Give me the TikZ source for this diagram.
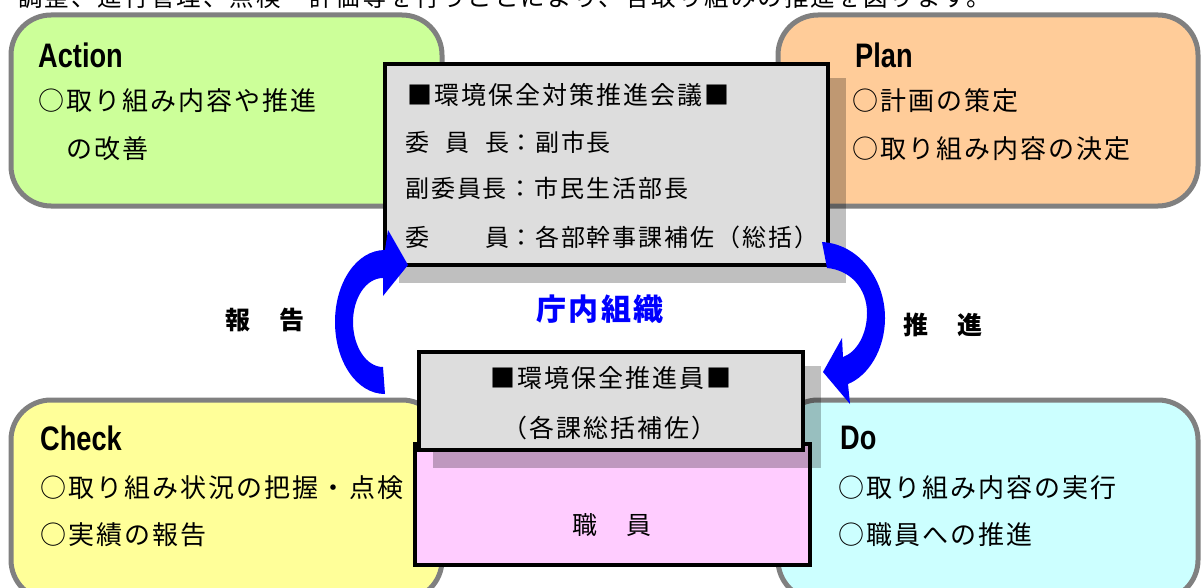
\documentclass[tikz,border=0pt]{standalone}
\usepackage{fontspec}
\setmainfont{Noto Sans CJK JP}[LetterSpace=8]
\newfontfamily\ttlfont{Liberation Sans}[FakeStretch=0.8]
\definecolor{pgreen}{HTML}{CCFF99}
\definecolor{porange}{HTML}{FFCC99}
\definecolor{pyellow}{HTML}{FFFF99}
\definecolor{pcyan}{HTML}{CCFFFF}
\definecolor{ppink}{HTML}{FFCCFF}
\definecolor{boxgray}{HTML}{DDDDDD}
\definecolor{rimgray}{HTML}{808080}
\definecolor{pblue}{HTML}{0000FF}
\begin{document}
\begin{tikzpicture}[x=1pt,y=-1pt,
  pdca/.style={draw=rimgray, line width=5pt, rounded corners=40pt, anchor=north west, inner sep=0pt, outer sep=0pt},
  orgbox/.style={draw=black, line width=4pt, fill=boxgray, anchor=north west, inner sep=0pt, outer sep=0pt},
  shadowbox/.style={fill=black, fill opacity=0.25, draw=none, anchor=north west, inner sep=0pt, outer sep=0pt},
  txt/.style={anchor=west, inner sep=0pt, font=\fontsize{26}{30}\selectfont},
  ctxt/.style={inner sep=0pt, font=\fontsize{25}{30}\selectfont},
  ttl/.style={anchor=west, inner sep=0pt, font=\ttlfont\bfseries\fontsize{34}{40}\selectfont},
  blockarrow/.style={fill=pblue, draw=none},
  lbl/.style={inner sep=0pt, font=\bfseries\fontsize{25}{30}\selectfont}
]
\useasboundingbox (0,0) rectangle (1201,588);

% cut-off introductory line
\node[anchor=base west, inner sep=0pt, font=\fontsize{24.5}{28}\selectfont] (intro) at (18,7) {調整、進行管理、点検・評価等を行うことにより、各取り組みの推進を図ります。};

% PDCA boxes
\node[pdca, fill=pgreen, minimum width=431pt, minimum height=191pt] (action) at (11,15) {};
\node[pdca, fill=porange, minimum width=420pt, minimum height=191pt] (plan) at (778,15) {};
\node[pdca, fill=pyellow, minimum width=431pt, minimum height=200pt] (check) at (11,400) {};
\node[pdca, fill=pcyan, minimum width=420pt, minimum height=200pt] (do) at (778,400) {};

\node[ttl] (actiont) at (38,55) {Action};
\node[txt] (action1) at (38,101) {○取り組み内容や推進};
\node[txt] (action2) at (66,149) {の改善};

\node[ttl] (plant) at (855,55) {Plan};
\node[txt] (plan1) at (852,101) {○計画の策定};
\node[txt] (plan2) at (852,149) {○取り組み内容の決定};

\node[ttl] (checkt) at (40,438) {Check};
\node[txt] (check1) at (40,488) {○取り組み状況の把握・点検};
\node[txt] (check2) at (40,535) {○実績の報告};

\node[ttl] (dot) at (840,438) {Do};
\node[txt] (do1) at (838,488) {○取り組み内容の実行};
\node[txt] (do2) at (838,535) {○職員への推進};

% council box
\node[shadowbox, minimum width=447pt, minimum height=205pt] (councilsh) at (399,78) {};
\node[orgbox, minimum width=443pt, minimum height=201pt] (council) at (385,64) {};
\node[txt, font=\fontsize{25}{30}\selectfont] (council0) at (407,95) {■環境保全対策推進会議■};
\node[txt, font=\fontsize{24}{28}\selectfont] (council1) at (405,142) {\makebox[104pt][s]{委\hfill 員\hfill 長}：副市長};
\node[txt, font=\fontsize{24}{28}\selectfont] (council2) at (405,188) {副委員長：市民生活部長};
\node[txt, font=\fontsize{24}{28}\selectfont] (council3) at (405,237) {\makebox[104pt][s]{委\hfill 員}：各部幹事課補佐（総括）};

% staff box and promoter box
\node[orgbox, fill=ppink, minimum width=395pt, minimum height=121pt] (staff) at (415,444) {};
\node[shadowbox, minimum width=388pt, minimum height=102pt] (promotersh) at (433,366) {};
\node[orgbox, minimum width=384pt, minimum height=98pt] (promoter) at (419,352) {};
\node[ctxt] (promoter1) at (611,378) {■環境保全推進員■};
\node[ctxt] (promoter2) at (609,428) {（各課総括補佐）};
\node[ctxt] (staff1) at (612,525) {職　員};

% curved block arrows
\fill[blockarrow] (385,394) .. controls (357,394) and (335,362) .. (335,322)
  .. controls (335,282) and (357,250) .. (385,250)
  -- (388,230) -- (408,265) -- (383,296) -- (383,278)
  .. controls (366,278) and (353,298) .. (353,322)
  .. controls (353,346) and (366,367) .. (383,367) -- cycle;
\fill[blockarrow] (822,242) .. controls (858,244) and (885,278) .. (885,318)
  .. controls (885,350) and (868,376) .. (848,384)
  -- (850,404) -- (823,372) -- (842,338) -- (843,357)
  .. controls (857,352) and (867,334) .. (867,313)
  .. controls (867,288) and (850,270) .. (827,268) -- cycle;

% labels
\node[lbl] (report) at (265,320) {報　告};
\node[lbl] (promote) at (943,325) {推　進};
\node[lbl, text=pblue, font=\bfseries\fontsize{30}{34}\selectfont] (org) at (600,309) {庁内組織};
\end{tikzpicture}
\end{document}
